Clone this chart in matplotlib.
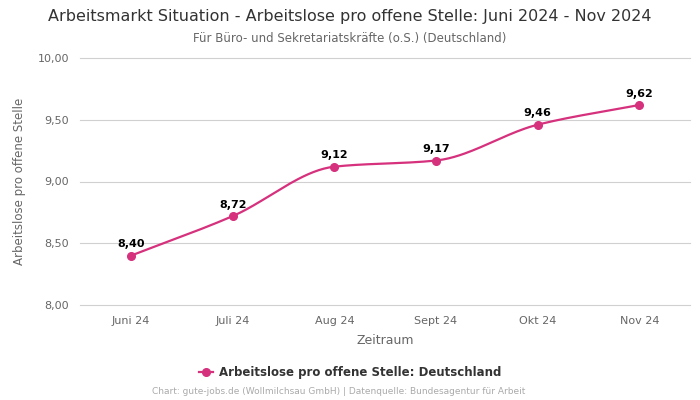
import matplotlib
matplotlib.use("Agg")
import matplotlib.pyplot as plt
import numpy as np

months = ["Juni 24", "Juli 24", "Aug 24", "Sept 24", "Okt 24", "Nov 24"]
values = [8.40, 8.72, 9.12, 9.17, 9.46, 9.62]
yticks = [8.0, 8.5, 9.0, 9.5, 10.0]
color = "#d6317d"


def monotone(x, y, n=40):
    # Fritsch-Carlson monotone cubic, only to draw the smooth line
    x = np.asarray(x, float)
    y = np.asarray(y, float)
    h = np.diff(x)
    d = np.diff(y) / h
    m = np.zeros_like(y)
    m[0], m[-1] = d[0], d[-1]
    for k in range(1, len(y) - 1):
        if d[k - 1] * d[k] <= 0:
            m[k] = 0
        else:
            w1 = 2 * h[k] + h[k - 1]
            w2 = h[k] + 2 * h[k - 1]
            m[k] = (w1 + w2) / (w1 / d[k - 1] + w2 / d[k])
    xs, ys = [], []
    for k in range(len(x) - 1):
        t = np.linspace(0, 1, n)
        h00 = 2 * t**3 - 3 * t**2 + 1
        h10 = t**3 - 2 * t**2 + t
        h01 = -2 * t**3 + 3 * t**2
        h11 = t**3 - t**2
        xs.append(x[k] + t * h[k])
        ys.append(h00 * y[k] + h10 * h[k] * m[k] + h01 * y[k + 1] + h11 * h[k] * m[k + 1])
    return np.concatenate(xs), np.concatenate(ys)


fig = plt.figure(figsize=(7, 4), dpi=100)
ax = fig.add_axes([0.1146, 0.2375, 0.8714, 0.6175])

xpos = np.arange(len(months))
sx, sy = monotone(xpos, values)
ax.plot(sx, sy, color=color, lw=1.6, zorder=3)
ax.plot(xpos, values, "o", color=color, ms=5.5, zorder=4)
handle, = ax.plot([], [], "-o", color=color, ms=5.5, lw=1.6)

for xi, v in zip(xpos, values):
    ax.annotate(f"{v:.2f}".replace(".", ","), (xi, v), xytext=(0, 4.5),
                textcoords="offset points", ha="center", va="bottom",
                fontsize=8, fontweight="bold", color="black")

ax.set_xlim(-0.5, len(months) - 0.5)
ax.set_ylim(8.0, 10.0)
ax.set_yticks(yticks)
ax.set_yticklabels([f"{t:.2f}".replace(".", ",") for t in yticks])
ax.set_xticks(xpos)
ax.set_xticklabels(months)
ax.tick_params(axis="both", length=0, labelsize=8, colors="#666666", pad=8)
ax.grid(axis="y", color="#d0d0d0", lw=0.8)
for gl in ax.get_ygridlines():
    gl.set_clip_on(False)
ax.set_axisbelow(True)
for s in ax.spines.values():
    s.set_visible(False)

ax.set_xlabel("Zeitraum", fontsize=9, color="#666666", labelpad=6)
ax.set_ylabel("Arbeitslose pro offene Stelle", fontsize=8.5, color="#666666", labelpad=8)

fig.text(0.5, 0.958, "Arbeitsmarkt Situation - Arbeitslose pro offene Stelle: Juni 2024 - Nov 2024",
         ha="center", va="center", fontsize=11.5, color="#333333")
fig.text(0.5, 0.903, "Für Büro- und Sekretariatskräfte (o.S.) (Deutschland)",
         ha="center", va="center", fontsize=8.5, color="#666666")

fig.legend([handle], ["Arbeitslose pro offene Stelle: Deutschland"], loc="center",
           bbox_to_anchor=(0.5, 0.068), frameon=False,
           prop={"size": 8.5, "weight": "bold"}, labelcolor="#333333",
           handlelength=1.2, handletextpad=0.5)

fig.text(0.484, 0.02, "Chart: gute-jobs.de (Wollmilchsau GmbH) | Datenquelle: Bundesagentur für Arbeit",
         ha="center", va="center", fontsize=6.5, color="#aaaaaa")

fig.savefig("out.png", dpi=100)
